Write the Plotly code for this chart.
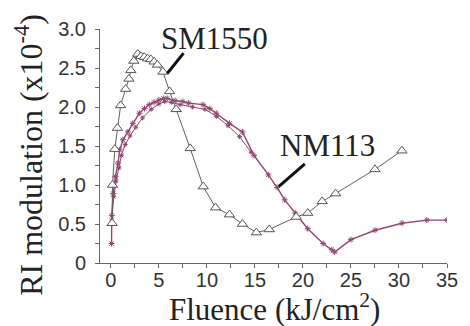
import plotly.graph_objects as go

# SM1550 fibre: RI modulation vs fluence
sm_x = [0.13, 0.17, 0.41, 0.68, 1.02, 1.54, 1.88, 2.08, 2.39, 2.8, 3.14, 3.48, 3.82,
        4.16, 4.5, 4.85, 5.42, 6.12, 6.8, 8.26, 9.62, 10.9, 12.35, 13.7, 15.15, 16.5,
        19.3, 20.5, 22.0, 23.4, 27.5, 30.3]
sm_y = [0.51, 1.0, 1.46, 1.73, 2.02, 2.23, 2.36, 2.47, 2.59, 2.68, 2.65, 2.64, 2.62,
        2.61, 2.58, 2.54, 2.45, 2.2, 1.97, 1.47, 0.98, 0.71, 0.62, 0.5, 0.39, 0.43,
        0.59, 0.64, 0.79, 0.89, 1.2, 1.44]

# NM113 fibre, first run
nm_x = [0.07, 0.1, 0.24, 0.48, 0.75, 0.92, 1.26, 1.77, 2.28, 2.97, 3.5, 4.0, 4.5, 5.0,
        5.5, 5.87, 6.7, 7.5, 8.1, 9.6, 10.3, 10.98, 12.35, 13.7, 14.9, 16.4, 17.3, 18.1,
        19.2, 20.5, 22.1, 23.0, 23.3, 25.0, 27.5, 30.3, 32.9, 35.0]
nm_y = [0.25, 0.61, 0.89, 1.11, 1.28, 1.45, 1.58, 1.68, 1.79, 1.92, 1.98, 2.03, 2.06,
        2.09, 2.11, 2.11, 2.08, 2.07, 2.05, 2.03, 1.98, 1.92, 1.79, 1.68, 1.38, 1.13,
        0.97, 0.81, 0.64, 0.44, 0.25, 0.17, 0.14, 0.3, 0.42, 0.51, 0.55, 0.55]

# NM113 fibre, second run
nm2_x = [0.1, 0.3, 0.55, 0.85, 1.1, 1.5, 2.0, 2.6, 3.3, 4.2, 5.0, 5.6, 6.3, 7.2, 8.5,
         9.8, 11.0, 12.2, 13.4, 14.6]
nm2_y = [0.55, 0.85, 1.05, 1.22, 1.38, 1.52, 1.63, 1.74, 1.86, 1.97, 2.04, 2.07, 2.06,
         2.03, 2.0, 1.97, 1.88, 1.76, 1.62, 1.42]

x_ticks = [0, 5, 10, 15, 20, 25, 30, 35]
y_ticks = [0, 0.5, 1.0, 1.5, 2.0, 2.5, 3.0]
y_tick_text = ["0", "0.5", "1.0", "1.5", "2.0", "2.5", "3.0"]

purple = "#93446f"
serif = "Liberation Serif"
sans = "Liberation Sans"

fig = go.Figure()
fig.add_trace(go.Scatter(
    x=nm2_x, y=nm2_y, mode="lines+markers",
    line=dict(color=purple, width=1),
    marker=dict(symbol="asterisk-open", size=4, color=purple, line=dict(color=purple, width=1)),
))
fig.add_trace(go.Scatter(
    x=nm_x, y=nm_y, mode="lines+markers",
    line=dict(color=purple, width=1.4),
    marker=dict(symbol="asterisk-open", size=5, color=purple, line=dict(color=purple, width=1)),
))
fig.add_trace(go.Scatter(
    x=sm_x, y=sm_y, mode="lines+markers",
    line=dict(color="#606060", width=1),
    marker=dict(symbol="triangle-up", size=9, color="white",
                line=dict(color="#555555", width=1)),
))

# leader lines for the curve labels
fig.add_shape(type="line", x0=5.87, y0=2.43, x1=7.57, y1=2.69,
              line=dict(color="#111111", width=3))
fig.add_shape(type="line", x0=17.47, y0=0.98, x1=20.2, y1=1.27,
              line=dict(color="#111111", width=3))

fig.add_annotation(x=10.8, y=2.88, text="SM1550", showarrow=False,
                   font=dict(family=serif, size=31, color="#222222"))
fig.add_annotation(x=22.6, y=1.51, text="NM113", showarrow=False,
                   font=dict(family=serif, size=31, color="#222222"))

fig.add_annotation(xref="paper", yref="paper", x=-0.205, y=0.4615,
                   text="RI modulation (x10<sup>-4</sup>)", textangle=-90, showarrow=False,
                   xanchor="center", yanchor="middle",
                   font=dict(family=serif, size=32, color="#222222"))
fig.add_annotation(xref="paper", yref="paper", x=0.504, y=-0.192,
                   text="Fluence (kJ/cm<sup>2</sup>)", showarrow=False,
                   xanchor="center", yanchor="middle",
                   font=dict(family=serif, size=31, color="#222222"))

fig.update_xaxes(
    range=[-1.13, 35], tickvals=x_ticks, ticks="outside", ticklen=4, tickcolor="#666666",
    minor=dict(dtick=2.5, tick0=0, ticks="outside", ticklen=4, tickcolor="#666666"),
    showline=True, linecolor="#666666", linewidth=1, showgrid=False, zeroline=False,
    tickfont=dict(family=sans, size=20, color="#333333"), ticklabelstandoff=-5,
)
fig.update_yaxes(
    range=[0, 3.0], tickvals=y_ticks, ticktext=y_tick_text, ticks="outside", ticklen=4,
    tickcolor="#666666",
    minor=dict(dtick=0.25, tick0=0, ticks="outside", ticklen=4, tickcolor="#666666"),
    showline=True, linecolor="#666666", linewidth=1, showgrid=False, zeroline=False,
    tickfont=dict(family=sans, size=20, color="#333333"), ticklabelstandoff=5,
)
fig.update_layout(
    width=470, height=326, margin=dict(l=100, r=17, t=29, b=63),
    plot_bgcolor="white", paper_bgcolor="white", showlegend=False,
)
fig.write_html("out.html")
